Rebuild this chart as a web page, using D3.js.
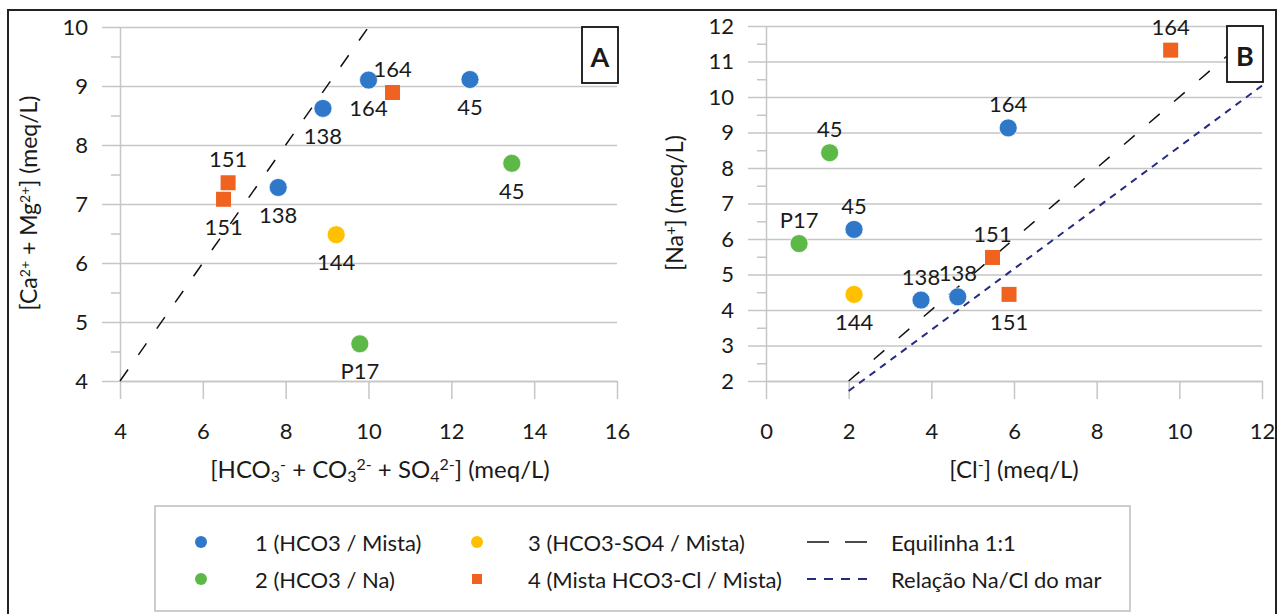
<!DOCTYPE html>
<html>
<head>
<meta charset="utf-8">
<script src="https://cdn.jsdelivr.net/npm/d3@7"></script>
<style>
  body { margin: 0; background: #fff; }
  text { font-family: Lato, "Open Sans", sans-serif; fill: #1a1a1a; }
</style>
</head>
<body>
<div id="chart"></div>
<script>
// samples (same order in both panels)
const sampleIds = ["164", "45", "138", "138", "45", "P17", "144", "164", "151", "151"];
const sampleGroup = [1, 1, 1, 1, 2, 2, 3, 4, 4, 4];

// panel A: [HCO3 + CO3 + SO4] vs [Ca + Mg]
const anionsA = [10.0, 12.45, 8.9, 7.82, 13.46, 9.79, 9.22, 10.58, 6.61, 6.5];
const caMgA = [9.1, 9.11, 8.62, 7.28, 7.69, 4.63, 6.48, 8.89, 7.36, 7.08];
const labelSideA = ["below", "below", "below", "below", "below", "below", "below", "above", "above", "below"];

// panel B: [Cl] vs [Na]
const clB = [5.86, 2.13, 3.75, 4.64, 1.54, 0.8, 2.13, 9.79, 5.48, 5.88];
const naB = [9.13, 6.27, 4.28, 4.37, 8.43, 5.87, 4.44, 11.32, 5.48, 4.44];
const labelSideB = ["above", "above", "above", "above", "above", "above", "below", "above", "above", "below"];

// reference lines
const equiA = [[4, 4], [10, 10]];
const equiB = [[2, 2], [12, 12]];
const seaB = [[2, 1.72], [12, 10.32]];

const xTicksA = [4, 6, 8, 10, 12, 14, 16];
const yTicksA = [4, 5, 6, 7, 8, 9, 10];
const xTicksB = [0, 2, 4, 6, 8, 10, 12];
const yTicksB = [2, 3, 4, 5, 6, 7, 8, 9, 10, 11, 12];

const groupNames = ["1 (HCO3 / Mista)", "2 (HCO3 / Na)", "3 (HCO3-SO4 / Mista)", "4 (Mista HCO3-Cl / Mista)"];
const groupColors = ["#2F78C9", "#5DB947", "#FFC000", "#F0621F"];
const lineNames = ["Equilinha 1:1", "Relação Na/Cl do mar"];

const W = 1283, H = 614;
const svg = d3.select("#chart").append("svg")
  .attr("width", W).attr("height", H)
  .attr("viewBox", `0 0 ${W} ${H}`);

svg.append("rect").attr("width", W).attr("height", H).attr("fill", "#fff");

// outer frame
svg.append("rect")
  .attr("x", 8).attr("y", 10).attr("width", 1268).attr("height", 640)
  .attr("fill", "none").attr("stroke", "#222").attr("stroke-width", 2);

const grid = "#c6c6c6";
const tickFont = 22;

function drawPanel(p) {
  const x = d3.scaleLinear().domain(p.xDomain).range([p.left, p.right]);
  const y = d3.scaleLinear().domain(p.yDomain).range([p.bottom, p.top]);
  const g = svg.append("g");

  // horizontal gridlines
  g.append("g")
    .attr("transform", `translate(${p.left},0)`)
    .call(d3.axisRight(y).tickValues(p.yTicks).tickSize(p.right - p.left).tickFormat(""))
    .call(s => s.select(".domain").remove())
    .call(s => s.selectAll("line").attr("stroke", grid).attr("stroke-width", 1.5));

  // minor y ticks
  const minor = d3.range(p.yDomain[0] + 0.5, p.yDomain[1], 1);
  g.append("g")
    .attr("transform", `translate(${p.left},0)`)
    .call(d3.axisLeft(y).tickValues(minor).tickSize(9).tickFormat(""))
    .call(s => s.select(".domain").remove())
    .call(s => s.selectAll("line").attr("stroke", grid).attr("stroke-width", 1.5));

  // y axis
  g.append("g")
    .attr("transform", `translate(${p.left},0)`)
    .call(d3.axisLeft(y).tickValues(p.yTicks).tickSizeInner(18).tickSizeOuter(0).tickPadding(14).tickFormat(d3.format("d")))
    .call(s => s.select(".domain").attr("stroke", grid).attr("stroke-width", 1.5))
    .call(s => s.selectAll("line").attr("stroke", grid).attr("stroke-width", 1.5))
    .call(s => s.selectAll("text").attr("font-size", tickFont).attr("font-family", "Lato").attr("fill", "#1a1a1a"));

  // x axis
  g.append("g")
    .attr("transform", `translate(0,${p.bottom})`)
    .call(d3.axisBottom(x).tickValues(p.xTicks).tickSizeInner(18).tickSizeOuter(0).tickPadding(24).tickFormat(d3.format("d")))
    .call(s => s.select(".domain").attr("stroke", grid).attr("stroke-width", 1.5))
    .call(s => s.selectAll("line").attr("stroke", grid).attr("stroke-width", 1.5))
    .call(s => s.selectAll("text").attr("font-size", tickFont).attr("font-family", "Lato").attr("fill", "#1a1a1a"));

  const line = d3.line().x(d => x(d[0])).y(d => y(d[1]));
  p.lines.forEach(l => {
    g.append("path").datum(l.data)
      .attr("d", line).attr("fill", "none")
      .attr("stroke", l.color).attr("stroke-width", l.width)
      .attr("stroke-dasharray", l.dash);
  });

  const pts = sampleIds.map((id, i) => ({ id, grp: sampleGroup[i], x: p.xs[i], y: p.ys[i], side: p.sides[i] }));

  g.append("g").selectAll("circle")
    .data(pts.filter(d => d.grp !== 4)).join("circle")
    .attr("cx", d => x(d.x)).attr("cy", d => y(d.y)).attr("r", 9)
    .attr("fill", d => groupColors[d.grp - 1])
    .attr("stroke", "#fff").attr("stroke-opacity", 0.7).attr("stroke-width", 1);

  g.append("g").selectAll("rect")
    .data(pts.filter(d => d.grp === 4)).join("rect")
    .attr("x", d => x(d.x) - 7.5).attr("y", d => y(d.y) - 7.5)
    .attr("width", 15).attr("height", 15)
    .attr("fill", groupColors[3]);

  g.append("g").selectAll("text")
    .data(pts).join("text")
    .attr("x", d => x(d.x)).attr("y", d => y(d.y) + (d.side === "above" ? -24 : 27))
    .attr("text-anchor", "middle").attr("dominant-baseline", "central")
    .attr("font-size", 22)
    .text(d => d.id);

  // panel letter box
  g.append("rect")
    .attr("x", p.right - 35).attr("y", p.top).attr("width", 36).attr("height", 56)
    .attr("fill", "#fff").attr("stroke", "#111").attr("stroke-width", 1.8);
  g.append("text")
    .attr("x", p.right - 17).attr("y", p.top + 29)
    .attr("text-anchor", "middle").attr("dominant-baseline", "central")
    .attr("font-size", 27).attr("font-weight", 700)
    .text(p.letter);

  return { x, y };
}

drawPanel({
  letter: "A", left: 120, right: 617, top: 27, bottom: 381,
  xDomain: [4, 16], yDomain: [4, 10], xTicks: xTicksA, yTicks: yTicksA,
  xs: anionsA, ys: caMgA, sides: labelSideA,
  lines: [{ data: equiA, color: "#111", width: 1.5, dash: "14,18" }]
});

drawPanel({
  letter: "B", left: 766, right: 1262, top: 26, bottom: 381,
  xDomain: [0, 12], yDomain: [2, 12], xTicks: xTicksB, yTicks: yTicksB,
  xs: clB, ys: naB, sides: labelSideB,
  lines: [
    { data: seaB, color: "#262a80", width: 2, dash: "7,6" },
    { data: equiB, color: "#111", width: 1.5, dash: "14,19" }
  ]
});

// axis titles
function richText(sel, parts, small) {
  parts.forEach(pt => {
    const t = sel.append("tspan").text(pt.t);
    if (pt.sub) t.attr("font-size", small).attr("baseline-shift", "-28%");
    if (pt.sup) t.attr("font-size", small).attr("baseline-shift", "48%");
  });
}

richText(svg.append("text")
  .attr("transform", "translate(37,203) rotate(-90)")
  .attr("text-anchor", "middle").attr("font-size", 23),
  [{ t: "[Ca" }, { t: "2+", sup: true }, { t: " + Mg" }, { t: "2+", sup: true }, { t: "] (meq/L)" }], 14);

richText(svg.append("text")
  .attr("x", 380).attr("y", 478)
  .attr("text-anchor", "middle").attr("font-size", 24),
  [{ t: "[HCO" }, { t: "3", sub: true }, { t: "-", sup: true }, { t: " + CO" }, { t: "3", sub: true }, { t: "2-", sup: true },
   { t: " + SO" }, { t: "4", sub: true }, { t: "2-", sup: true }, { t: "] (meq/L)" }], 16);

richText(svg.append("text")
  .attr("transform", "translate(683,203) rotate(-90)")
  .attr("text-anchor", "middle").attr("font-size", 23),
  [{ t: "[Na" }, { t: "+", sup: true }, { t: "] (meq/L)" }], 15);

richText(svg.append("text")
  .attr("x", 1014).attr("y", 478)
  .attr("text-anchor", "middle").attr("font-size", 24),
  [{ t: "[Cl" }, { t: "-", sup: true }, { t: "] (meq/L)" }], 16);

// legend
const lg = svg.append("g");
lg.append("rect")
  .attr("x", 155).attr("y", 506).attr("width", 975).attr("height", 105)
  .attr("fill", "#fff").attr("stroke", "#bdbdbd").attr("stroke-width", 1.5);

const rowY = [542, 579];
const colSym = [201, 477];
const colText = [255, 528];
const legendFont = 22;
groupNames.forEach((name, i) => {
  const col = Math.floor(i / 2), row = i % 2;
  if (i === 3) {
    lg.append("rect").attr("x", colSym[col] - 5).attr("y", rowY[row] - 5)
      .attr("width", 10).attr("height", 10).attr("fill", groupColors[i]);
  } else {
    lg.append("circle").attr("cx", colSym[col]).attr("cy", rowY[row]).attr("r", 6)
      .attr("fill", groupColors[i]);
  }
  lg.append("text").attr("x", colText[col]).attr("y", rowY[row])
    .attr("dominant-baseline", "central").attr("font-size", legendFont).text(name);
});

const lineStyles = [
  { color: "#111", dash: "22,16", width: 1.5 },
  { color: "#262a80", dash: "9,8", width: 2 }
];
lineNames.forEach((name, i) => {
  lg.append("line")
    .attr("x1", 807).attr("x2", 867).attr("y1", rowY[i]).attr("y2", rowY[i])
    .attr("stroke", lineStyles[i].color).attr("stroke-width", lineStyles[i].width)
    .attr("stroke-dasharray", lineStyles[i].dash);
  lg.append("text").attr("x", 891).attr("y", rowY[i])
    .attr("dominant-baseline", "central").attr("font-size", legendFont).text(name);
});
</script>
</body>
</html>
